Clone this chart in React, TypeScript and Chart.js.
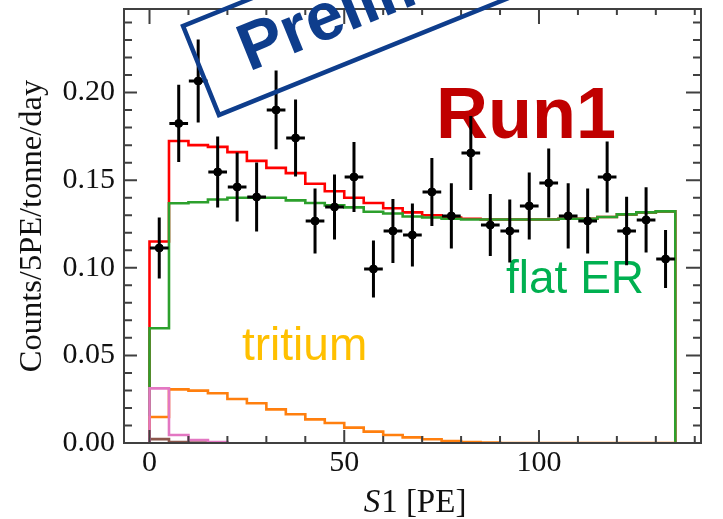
import React, { useEffect, useRef } from 'react';
import { Chart, registerables } from 'chart.js';

Chart.register(...registerables);

// ---- categories / bins (S1 in PE) ----
const binEdges = [0, 5, 10, 15, 20, 25, 30, 35, 40, 45, 50, 55, 60, 65, 70, 75, 80, 85, 90, 95, 100, 105, 110, 115, 120, 125, 130, 135];
const binCenters = [2.5, 7.5, 12.5, 17.5, 22.5, 27.5, 32.5, 37.5, 42.5, 47.5, 52.5, 57.5, 62.5, 67.5, 72.5, 77.5, 82.5, 87.5, 92.5, 97.5, 102.5, 107.5, 112.5, 117.5, 122.5, 127.5, 132.5];

// ---- measured data (Counts/5PE/tonne/day) ----
const dataRate = [0.1113, 0.1824, 0.2066, 0.1547, 0.1461, 0.1404, 0.1901, 0.1741, 0.1267, 0.1347, 0.1518, 0.0993, 0.121, 0.1187, 0.1433, 0.1296, 0.1655, 0.1244, 0.121, 0.1353, 0.1484, 0.1296, 0.1267, 0.1518, 0.121, 0.1273, 0.105];
const dataErr = [0.0174, 0.022, 0.0237, 0.0203, 0.0197, 0.0197, 0.0225, 0.022, 0.0186, 0.0186, 0.02, 0.0163, 0.0183, 0.018, 0.0194, 0.0186, 0.0211, 0.0177, 0.018, 0.0191, 0.0197, 0.0186, 0.0186, 0.0203, 0.0195, 0.0186, 0.0166];

// ---- model components ----
const totalModel = [0.115, 0.1724, 0.170, 0.169, 0.166, 0.161, 0.157, 0.154, 0.148, 0.1437, 0.140, 0.137, 0.134, 0.1316, 0.130, 0.1287, 0.128, 0.1276, 0.1276, 0.1276, 0.1276, 0.128, 0.128, 0.129, 0.1305, 0.1316, 0.1322];
const flatER = [0.0655, 0.1368, 0.1374, 0.139, 0.140, 0.140, 0.140, 0.1385, 0.137, 0.1356, 0.1345, 0.132, 0.131, 0.1293, 0.1287, 0.128, 0.1276, 0.1276, 0.1276, 0.1276, 0.1276, 0.128, 0.128, 0.129, 0.1305, 0.1316, 0.1322];
const tritium = [0.0148, 0.0306, 0.0299, 0.0284, 0.0251, 0.0227, 0.0192, 0.0164, 0.0135, 0.0114, 0.0088, 0.0065, 0.0046, 0.0032, 0.0021, 0.0011, 0.0006, 0.0003, 0, 0, 0, 0, 0, 0, 0, 0, 0];
const pinkComp = [0.0312, 0.0046, 0.0017, 0.0005];
const brownComp = [0.0022, 0.0005, 0.0002, 0.0001];

// ---- ticks ----
const yMajorTicks = [0, 0.05, 0.1, 0.15, 0.2];
const yMinorTicks = [0.01, 0.02, 0.03, 0.04, 0.06, 0.07, 0.08, 0.09, 0.11, 0.12, 0.13, 0.14, 0.16, 0.17, 0.18, 0.19, 0.21, 0.22, 0.23, 0.24];
const xMajorTicks = [0, 50, 100];
const xMinorTicks = [10, 20, 30, 40, 60, 70, 80, 90, 110, 120, 130, 140];

function stepPoints(vals: number[]) {
  const pts: { x: number; y: number }[] = [{ x: binEdges[0], y: 0 }];
  vals.forEach((v, i) => {
    pts.push({ x: binEdges[i], y: v });
    pts.push({ x: binEdges[i + 1], y: v });
  });
  pts.push({ x: binEdges[vals.length], y: 0 });
  return pts;
}

const X_HALF = 2.4;
const SERIF = '"Liberation Serif", "Times New Roman", serif';
const SANS = '"Liberation Sans", Arial, sans-serif';

export default function App() {
  const ref = useRef<HTMLCanvasElement>(null);
  useEffect(() => {
    const canvas = ref.current!;
    const errV: any[] = [];
    const errH: any[] = [];
    binCenters.forEach((c, i) => {
      errV.push({ x: c, y: dataRate[i] - dataErr[i] }, { x: c, y: dataRate[i] + dataErr[i] }, { x: c, y: null });
      errH.push({ x: c - X_HALF, y: dataRate[i] }, { x: c + X_HALF, y: dataRate[i] }, { x: c, y: null });
    });
    const pts = binCenters.map((c, i) => ({ x: c, y: dataRate[i] }));

    const lineDs = (label: string, data: any[], color: string, order: number, width = 2.6) => ({
      type: 'line' as const,
      label,
      data,
      borderColor: color,
      backgroundColor: color,
      borderWidth: width,
      pointRadius: 0,
      fill: false,
      tension: 0,
      spanGaps: false,
      order,
    });

    const decor = {
      id: 'decor',
      beforeDatasetsDraw(chart: any) {
        const { ctx } = chart;
        ctx.save();
        ctx.textBaseline = 'alphabetic';
        ctx.textAlign = 'left';
        ctx.fillStyle = '#c00000';
        ctx.font = `bold 72px ${SANS}`;
        ctx.fillText('Run1', 436, 138);
        ctx.fillStyle = '#00b050';
        ctx.font = `46px ${SANS}`;
        ctx.fillText('flat ER', 506, 293);
        ctx.fillStyle = '#ffc000';
        ctx.fillText('tritium', 242, 360);
        ctx.restore();
      },
      afterDatasetsDraw(chart: any) {
        const { ctx, chartArea: a, scales } = chart;
        const x = scales.x;
        const y = scales.y;
        ctx.save();
        ctx.strokeStyle = '#404040';
        ctx.lineWidth = 2;
        ctx.strokeRect(a.left, a.top, a.right - a.left, a.bottom - a.top);
        ctx.beginPath();
        xMajorTicks.forEach((v) => {
          const p = x.getPixelForValue(v);
          ctx.moveTo(p, a.bottom); ctx.lineTo(p, a.bottom - 13);
          ctx.moveTo(p, a.top); ctx.lineTo(p, a.top + 15);
        });
        xMinorTicks.forEach((v) => {
          const p = x.getPixelForValue(v);
          ctx.moveTo(p, a.bottom); ctx.lineTo(p, a.bottom - 7);
          ctx.moveTo(p, a.top); ctx.lineTo(p, a.top + 6);
        });
        yMajorTicks.forEach((v) => {
          const p = y.getPixelForValue(v);
          ctx.moveTo(a.left, p); ctx.lineTo(a.left + 13, p);
          ctx.moveTo(a.right, p); ctx.lineTo(a.right - 15, p);
        });
        yMinorTicks.forEach((v) => {
          const p = y.getPixelForValue(v);
          ctx.moveTo(a.left, p); ctx.lineTo(a.left + 8, p);
          ctx.moveTo(a.right, p); ctx.lineTo(a.right - 8, p);
        });
        ctx.stroke();

        // x axis title with italic S
        ctx.fillStyle = '#111';
        ctx.textBaseline = 'alphabetic';
        ctx.textAlign = 'left';
        const f1 = `italic 33px ${SERIF}`;
        const f2 = `33px ${SERIF}`;
        ctx.font = f1;
        const w1 = ctx.measureText('S').width;
        ctx.font = f2;
        const w2 = ctx.measureText('1 [PE]').width;
        const cx = (a.left + a.right) / 2 + 2;
        const x0 = cx - (w1 + w2) / 2;
        ctx.font = f1;
        ctx.fillText('S', x0, 512);
        ctx.font = f2;
        ctx.fillText('1 [PE]', x0 + w1 + 1, 512);

        // Preliminary stamp
        ctx.translate(219, 115);
        ctx.rotate((-22 * Math.PI) / 180);
        ctx.strokeStyle = '#0e3d8c';
        ctx.lineWidth = 4.5;
        ctx.strokeRect(0, -96, 470, 96);
        ctx.fillStyle = '#0e3d8c';
        ctx.font = `bold 67px ${SANS}`;
        ctx.fillText('Preliminary', 44, -29);
        ctx.restore();
      },
    };

    const chart = new Chart(canvas, {
      type: 'line',
      data: {
        datasets: [
          {
            type: 'scatter' as const,
            label: 'data',
            data: pts,
            backgroundColor: '#000',
            borderColor: '#000',
            pointRadius: 4,
            showLine: false,
            order: 0,
          } as any,
          lineDs('err-v', errV, '#000', 1, 3),
          lineDs('err-h', errH, '#000', 1, 3),
          lineDs('other', stepPoints(pinkComp), '#e377c2', 2),
          lineDs('other2', stepPoints(brownComp), '#8c564b', 3),
          lineDs('tritium', stepPoints(tritium), '#ff7f0e', 4),
          lineDs('flat ER', stepPoints(flatER), '#2ca02c', 5),
          lineDs('total', stepPoints(totalModel), '#ff0000', 6),
        ],
      },
      options: {
        animation: false,
        responsive: false,
        events: [],
        layout: { padding: { left: 0, top: 9, right: 22, bottom: 0 } },
        plugins: { legend: { display: false }, tooltip: { enabled: false } },
        scales: {
          x: {
            type: 'linear',
            min: -6.55,
            max: 141.6,
            grid: { display: false, drawTicks: false },
            border: { display: false },
            ticks: {
              padding: 2,
              color: '#111',
              font: { family: SERIF, size: 30 },
              callback: (v: any) => String(v),
            },
            afterBuildTicks: (s: any) => { s.ticks = xMajorTicks.map((v) => ({ value: v })); },
            afterFit: (s: any) => { s.height = 76; s.paddingLeft = 0; s.paddingRight = 0; },
          },
          y: {
            type: 'linear',
            min: 0,
            max: 0.2477,
            grid: { display: false, drawTicks: false },
            border: { display: false },
            ticks: {
              padding: 9,
              color: '#111',
              font: { family: SERIF, size: 30 },
              callback: (v: any) => Number(v).toFixed(2),
            },
            title: {
              display: true,
              text: 'Counts/5PE/tonne/day',
              color: '#111',
              font: { family: SERIF, size: 32.5 },
              padding: { top: 13, bottom: 0 },
            },
            afterBuildTicks: (s: any) => { s.ticks = yMajorTicks.map((v) => ({ value: v })); },
            afterFit: (s: any) => { s.width = 124; s.paddingTop = 0; s.paddingBottom = 0; },
          },
        },
      } as any,
      plugins: [decor],
    });
    return () => chart.destroy();
  }, []);

  return (
    <div style={{ position: 'fixed', left: 0, top: 0, width: 723, height: 519, background: '#fff' }}>
      <canvas ref={ref} width={723} height={519} style={{ display: 'block' }} />
    </div>
  );
}
